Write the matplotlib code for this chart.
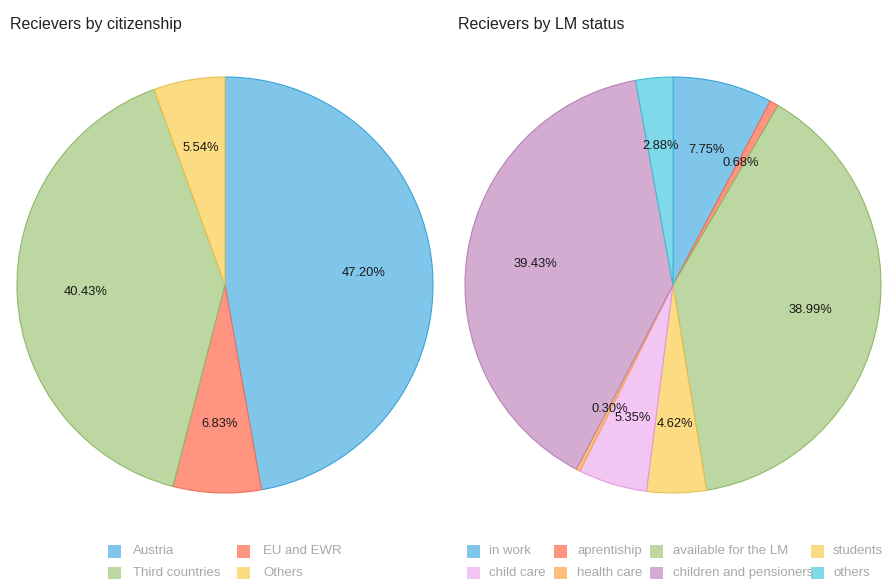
import matplotlib
matplotlib.use("Agg")
import matplotlib.pyplot as plt
from matplotlib.patches import Rectangle

plt.rcParams["font.family"] = ["Liberation Sans", "DejaVu Sans"]

# data
cit_labels = ["Austria", "EU and EWR", "Third countries", "Others"]
cit_values = [47.20, 6.83, 40.43, 5.54]
cit_fill = ["#80c6ea", "#ff9581", "#bdd7a2", "#fcdc82"]
cit_edge = ["#3aa3d8", "#f0705a", "#8fb865", "#e8c050"]

lm_labels = ["in work", "aprentiship", "available for the LM", "students",
             "child care", "health care", "children and pensioners", "others"]
lm_values = [7.75, 0.68, 38.99, 4.62, 5.35, 0.30, 39.43, 2.88]
lm_fill = ["#80c6ea", "#ff9581", "#bdd7a2", "#fcdc82",
           "#f3c5f3", "#fdbe7e", "#d4acd2", "#7fd9e8"]
lm_edge = ["#3aa3d8", "#f0705a", "#8fb865", "#e8c050",
           "#e09be0", "#f5a050", "#b783b4", "#3bbfd8"]

W, H = 882, 579
fig = plt.figure(figsize=(W / 100, H / 100), dpi=100)


def pie_axes(cx, cy, r):
    # pixel centre (from top) -> figure fraction axes
    ax = fig.add_axes([(cx - r) / W, (H - cy - r) / H, 2 * r / W, 2 * r / H])
    ax.axis("off")
    return ax


def draw_pie(ax, values, fills, edges):
    wedges, texts = ax.pie(values, colors=fills, startangle=90, counterclock=False,
                           radius=1, labels=["%.2f%%" % v for v in values],
                           labeldistance=0.67,
                           textprops={"fontsize": 9.3, "color": "#1a1a1a",
                                      "ha": "center", "va": "center"})
    for w, e in zip(wedges, edges):
        w.set_edgecolor(e)
        w.set_linewidth(0.8)
        w.set_clip_on(False)
    # pie() sets its own limits, so reset them afterwards
    ax.set_xlim(-1, 1)
    ax.set_ylim(-1, 1)
    ax.set_aspect("equal")


ax1 = pie_axes(225, 285, 208)
draw_pie(ax1, cit_values, cit_fill, cit_edge)
ax2 = pie_axes(673, 285, 208)
draw_pie(ax2, lm_values, lm_fill, lm_edge)

fig.text(10 / W, 1 - 24 / H, "Recievers by citizenship", fontsize=11.5, color="#222222",
         ha="left", va="center")
fig.text(458 / W, 1 - 24 / H, "Recievers by LM status", fontsize=11.5, color="#222222",
         ha="left", va="center")


def legend(labels, colors, sq_x, txt_x, rows_y, ncol):
    for i, (lab, c) in enumerate(zip(labels, colors)):
        col, row = i % ncol, i // ncol
        y = rows_y[row]
        fig.add_artist(Rectangle((sq_x[col] / W, (H - y - 6.5) / H), 13 / W, 13 / H,
                                 transform=fig.transFigure, facecolor=c, edgecolor="none"))
        fig.text(txt_x[col] / W, 1 - y / H, lab, fontsize=9.5, color="#a8a8a8",
                 ha="left", va="center")


legend(cit_labels, cit_fill, [108, 237], [133, 263], [551, 573], 2)
legend(lm_labels, lm_fill, [467, 554, 650, 811], [489, 577, 673, 833], [551, 573], 4)

fig.savefig("out.png", dpi=100, facecolor="white")
